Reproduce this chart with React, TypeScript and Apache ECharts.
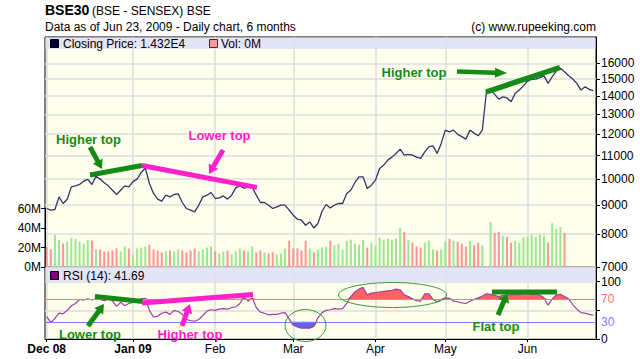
import React, { useEffect, useRef } from 'react';
import * as echarts from 'echarts';

// ---------- data ----------
const monthTicks = [0, 21, 41, 60, 80, 97, 117];
const monthLabels = ['Dec 08', 'Jan 09', 'Feb', 'Mar', 'Apr', 'May', 'Jun'];
const yearStartLabels = ['Dec 08', 'Jan 09'];
const priceTicks = [7000, 8000, 9000, 10000, 11000, 12000, 13000, 14000, 15000, 16000];
const rsiLabelTicks = [0, 30, 70, 100];
const rsiTickMarks = [0, 50, 100];

const closes = [
  8875, 8814, 8839, 9304, 9057, 9217, 9690, 9729, 9784, 9916,
  9990, 9784, 10120, 10000, 9850, 9730, 9560, 9394, 9560, 9730,
  9690, 9900, 10000, 10273, 10467, 9824, 9433, 9217, 9142, 9368,
  9304, 9394, 9417, 9094, 8875, 8814, 8753, 8995, 9304, 9368,
  9471, 9243, 9266, 9341, 9220, 9368, 9650, 9729, 9638, 9678,
  9690, 9368, 9094, 9094, 8995, 8875, 8933, 8995, 8995, 8814,
  8637, 8497, 8463, 8293, 8405, 8202, 8350, 8778, 9020, 8897,
  8995, 9057, 9057, 9433, 9560, 9864, 10091, 10091, 9626, 9756,
  9957, 10441, 10582, 10800, 10932, 11098, 11293, 11021, 11053, 11021,
  10932, 10874, 11170, 11399, 11446, 11098, 11558, 12200, 12116, 12200,
  11989, 11880, 11762, 12200, 12050, 11921, 12200, 14254, 14353, 14100,
  13837, 13967, 13900, 13686, 14162, 14353, 14600, 14888, 14991, 15000,
  15089, 15200, 14749, 15150, 15505, 15676, 15461, 15212, 15010, 14749,
  14353, 14547, 14394, 14320,
];

// volume in millions
const volumes = [
  20, 18, 33, 28, 24, 26, 30, 29, 26, 24,
  28, 27, 18, 18, 16, 16, 17, 19, 16, 21,
  19, 12, 19, 20, 21, 23, 18, 17, 15, 16,
  17, 16, 18, 17, 15, 17, 19, 16, 18, 20,
  21, 16, 14, 16, 17, 13, 16, 19, 17, 16,
  21, 15, 17, 15, 14, 15, 13, 14, 19, 27,
  19, 19, 17, 27, 19, 15, 18, 20, 21, 27,
  22, 24, 18, 27, 28, 24, 23, 28, 20, 25,
  22, 30, 28, 29, 28, 29, 40, 36, 28, 25,
  21, 20, 25, 27, 18, 17, 18, 26, 29, 27,
  26, 24, 21, 27, 22, 25, 22, 1, 46, 35,
  36, 32, 31, 25, 27, 25, 31, 31, 33, 31,
  33, 32, 25, 45, 39, 41, 35, 0, 0, 0,
  0, 0, 0, 0,
];

const rsi = [
  39, 29, 36, 45, 44, 50, 58, 62, 69, 68,
  70, 68, 70, 69, 67, 70, 67, 57, 64, 58,
  62, 64, 67, 70, 71, 50, 38, 40, 45, 47,
  43, 50, 48, 43, 34, 32, 31, 34, 41, 49,
  51, 50, 52, 53, 52, 55, 56, 62, 73, 66,
  72, 55, 47, 45, 42, 43, 43, 45, 46, 35,
  24, 21, 19, 19, 19, 22, 37, 46, 50, 51,
  53, 52, 53, 62, 74, 82, 87, 90, 77, 80,
  81, 82, 83, 84, 85, 87, 86, 77, 74, 70,
  67, 66, 79, 79, 69, 65, 69, 72, 71, 66,
  65, 63, 62, 66, 69, 72, 75, 79, 78, 76,
  74, 76, 77, 78, 77, 78, 79, 79, 78, 78,
  77, 72, 59, 70, 77, 78, 74, 70, 60, 52,
  46, 45, 43, 41.69,
];

const overbought = 70;
const oversold = 30;

// ---------- styling helpers ----------
const FONT = '"Liberation Sans", Arial, Helvetica, sans-serif';
const GREEN = '#168a16';
const PINK = '#ff22cc';
const ANNO_FONT = `bold 13px ${FONT}`;

function arrowPts(x1: number, y1: number, x2: number, y2: number, w: number, hw: number, hl: number) {
  const dx = x2 - x1, dy = y2 - y1;
  const len = Math.hypot(dx, dy);
  const ux = dx / len, uy = dy / len;
  const nx = -uy, ny = ux;
  const bx = x2 - ux * hl, by = y2 - uy * hl;
  return [
    [x1 + nx * w / 2, y1 + ny * w / 2],
    [bx + nx * w / 2, by + ny * w / 2],
    [bx + nx * hw / 2, by + ny * hw / 2],
    [x2, y2],
    [bx - nx * hw / 2, by - ny * hw / 2],
    [bx - nx * w / 2, by - ny * w / 2],
    [x1 - nx * w / 2, y1 - ny * w / 2],
  ];
}

function arrow(x1: number, y1: number, x2: number, y2: number, color: string, w = 5, hw = 11, hl = 9) {
  return { type: 'polygon', z: 110, shape: { points: arrowPts(x1, y1, x2, y2, w, hw, hl) }, style: { fill: color } };
}
function thick(x1: number, y1: number, x2: number, y2: number, color: string, w = 5) {
  return { type: 'line', z: 110, shape: { x1, y1, x2, y2 }, style: { stroke: color, lineWidth: w } };
}
function label(text: string, x: number, y: number, color: string, font = ANNO_FONT, align = 'center') {
  return { type: 'text', z: 120, style: { text, x, y, fill: color, font, textAlign: align, textVerticalAlign: 'middle' } };
}

export default function App() {
  const ref = useRef<HTMLDivElement>(null);

  useEffect(() => {
    document.body.style.margin = '0';
    if (!ref.current) return;
    const chart = echarts.init(ref.current, undefined, { renderer: 'svg' });

    const L = 45, W = 551;
    const xMin = -0.41, xMax = 133.66;
    const gridLine = { show: true, lineStyle: { color: '#dcdcdc', width: 1.5 } };
    const axisFont = { fontFamily: FONT, fontSize: 12, color: '#000' };
    const logTicks = priceTicks.map((t) => Math.log10(t));
    const blackLine = { show: true, onZero: false, lineStyle: { color: '#000', width: 1 } };
    const hiddenX = (gridIndex: number) => ({
      gridIndex, type: 'value', min: xMin, max: xMax, show: false,
      axisLine: { show: false, onZero: false }, axisTick: { show: false }, axisLabel: { show: false }, splitLine: { show: false },
    });

    const option: any = {
      animation: false,
      backgroundColor: '#ffffff',
      grid: [
        { left: L, top: 37, width: W, height: 230, show: true, backgroundColor: '#ffffee', borderColor: '#000', borderWidth: 1 },
        { left: L, top: 267, width: W, height: 72, show: true, backgroundColor: '#ffffee', borderColor: '#000', borderWidth: 1 },
        { left: L, top: 208.5, width: W, height: 58.5, show: false },
      ],
      xAxis: [
        {
          gridIndex: 0, type: 'value', min: xMin, max: xMax,
          axisLine: { show: false, onZero: false },
          axisTick: { show: false, customValues: monthTicks },
          axisLabel: { show: false, customValues: monthTicks },
          splitLine: gridLine,
        },
        {
          gridIndex: 1, type: 'value', min: xMin, max: xMax,
          axisLine: blackLine,
          axisTick: { show: true, length: 3, customValues: monthTicks, lineStyle: { color: '#000' } },
          axisLabel: {
            customValues: monthTicks, margin: 4, ...axisFont,
            formatter: (v: number) => {
              const k = monthTicks.indexOf(Math.round(v));
              const t = k >= 0 ? monthLabels[k] : '';
              return yearStartLabels.includes(t) ? `{b|${t}}` : `{n|${t}}`;
            },
            rich: {
              b: { fontFamily: FONT, fontSize: 12, fontWeight: 'bold', color: '#000' },
              n: { fontFamily: FONT, fontSize: 12, color: '#000' },
            },
          },
          splitLine: gridLine,
        },
        hiddenX(2),
      ],
      yAxis: [
        {
          gridIndex: 0, type: 'value', position: 'right',
          min: Math.log10(7000), max: Math.log10(17800),
          axisLine: blackLine,
          axisTick: { show: true, length: 4, customValues: logTicks, lineStyle: { color: '#000' } },
          axisLabel: { customValues: logTicks, margin: 5, ...axisFont, formatter: (v: number) => String(Math.round(Math.pow(10, v))) },
          splitLine: gridLine,
        },
        {
          gridIndex: 2, type: 'value', position: 'left', min: 0, max: 60, interval: 20,
          axisLine: blackLine,
          axisTick: { show: true, length: 4, lineStyle: { color: '#000' } },
          axisLabel: { margin: 4, ...axisFont, formatter: (v: number) => `${v}M` },
          splitLine: { show: false },
        },
        {
          gridIndex: 1, type: 'value', position: 'right', min: 0, max: 125.65,
          axisLine: blackLine,
          axisTick: { show: true, length: 4, customValues: rsiTickMarks, lineStyle: { color: '#000' } },
          axisLabel: {
            customValues: rsiLabelTicks, margin: 5, ...axisFont,
            formatter: (v: number) => (v === 70 ? `{r|70}` : v === 30 ? `{bl|30}` : `{k|${v}}`),
            rich: {
              r: { fontFamily: FONT, fontSize: 12, color: '#ff6f6f' },
              bl: { fontFamily: FONT, fontSize: 12, color: '#7f7fff' },
              k: { fontFamily: FONT, fontSize: 12, color: '#000' },
            },
          },
          splitLine: gridLine,
        },
      ],
      series: [
        {
          type: 'bar', xAxisIndex: 2, yAxisIndex: 1, barWidth: 2, z: 2,
          data: volumes.map((v, i) => ({
            value: [i, v],
            itemStyle: { color: i > 0 && closes[i] >= closes[i - 1] ? '#9be88f' : '#ff9494' },
          })),
        },
        {
          type: 'line', xAxisIndex: 0, yAxisIndex: 0, z: 3, showSymbol: false,
          data: closes.map((c, i) => [i, Math.log10(c)]),
          lineStyle: { color: '#343468', width: 1.3 },
        },
        {
          type: 'line', xAxisIndex: 1, yAxisIndex: 2, showSymbol: false, z: 2,
          data: rsi.map((r, i) => [i, Math.max(r, overbought)]),
          lineStyle: { opacity: 0 },
          areaStyle: { color: '#ff6262', opacity: 1, origin: overbought },
        },
        {
          type: 'line', xAxisIndex: 1, yAxisIndex: 2, showSymbol: false, z: 2,
          data: rsi.map((r, i) => [i, Math.min(r, oversold)]),
          lineStyle: { opacity: 0 },
          areaStyle: { color: '#6262ff', opacity: 1, origin: oversold },
        },
        {
          type: 'line', xAxisIndex: 1, yAxisIndex: 2, showSymbol: false, z: 4,
          data: rsi.map((r, i) => [i, r]),
          lineStyle: { color: '#a23fa8', width: 1.2 },
          markLine: {
            silent: true, symbol: ['none', 'none'], label: { show: false },
            lineStyle: { type: 'solid', width: 1 },
            data: [
              { yAxis: overbought, lineStyle: { color: '#ff7a7a', type: 'solid', width: 1 } },
              { yAxis: oversold, lineStyle: { color: '#7a7aff', type: 'solid', width: 1 } },
            ],
          },
        },
      ],
      graphic: [
        // header
        label('BSE30', 45, 10, '#000', `bold 14px ${FONT}`, 'left'),
        label('(BSE - SENSEX) BSE', 92, 11, '#000', `12px ${FONT}`, 'left'),
        label('Data as of Jun 23, 2009 - Daily chart, 6 months', 45, 27, '#000', `12px ${FONT}`, 'left'),
        label('(c) www.rupeeking.com', 596, 27, '#000', `12px ${FONT}`, 'right'),
        // legend bands
        { type: 'rect', z: 100, shape: { x: 45.5, y: 37.5, width: 550, height: 11.5 }, style: { fill: 'rgba(224,224,248,0.88)' } },
        { type: 'rect', z: 100, shape: { x: 45.5, y: 267.5, width: 550, height: 14 }, style: { fill: 'rgba(224,224,248,0.88)' } },
        { type: 'rect', z: 105, shape: { x: 50.5, y: 39.5, width: 8, height: 8 }, style: { fill: '#00003a', stroke: '#000', lineWidth: 1 } },
        label('Closing Price: 1.432E4', 63, 43.5, '#000', `12px ${FONT}`, 'left'),
        { type: 'rect', z: 105, shape: { x: 209.5, y: 39.5, width: 8, height: 8 }, style: { fill: '#ff9999', stroke: '#333', lineWidth: 1 } },
        label('Vol: 0M', 221, 43.5, '#000', `12px ${FONT}`, 'left'),
        { type: 'rect', z: 105, shape: { x: 50.5, y: 271.5, width: 8, height: 8 }, style: { fill: '#800080', stroke: '#000', lineWidth: 1 } },
        label('RSI (14): 41.69', 63, 275.5, '#000', `12px ${FONT}`, 'left'),
        // price annotations
        thick(90, 175, 142, 165.5, GREEN),
        thick(142, 165.5, 257, 187.5, PINK),
        arrow(90, 147, 102, 169, GREEN),
        label('Higher top', 88.5, 139, GREEN),
        arrow(223, 150, 209, 174, PINK),
        label('Lower top', 219.5, 135, PINK),
        thick(486, 92, 560, 67.5, GREEN, 5.5),
        arrow(457, 71.5, 507, 73, GREEN, 4.5, 10, 12),
        label('Higher top', 414, 72, GREEN),
        // RSI annotations
        thick(95, 296.5, 143, 301.5, GREEN),
        thick(142, 303, 253, 294.5, PINK),
        arrow(88, 326, 104, 304, GREEN),
        label('Lower top', 90, 334, GREEN),
        arrow(182, 326, 190, 304, PINK),
        label('Higher top', 190, 334, PINK),
        thick(492, 292, 557, 292, GREEN),
        arrow(498, 315, 507, 294, GREEN, 5, 12, 8),
        label('Flat top', 496, 326, GREEN),
        { type: 'ellipse', z: 108, shape: { cx: 305.5, cy: 325.5, rx: 20.5, ry: 16 }, style: { fill: 'none', stroke: '#3a9a3a', lineWidth: 1 } },
        { type: 'ellipse', z: 108, shape: { cx: 392.5, cy: 295, rx: 54, ry: 12.5 }, style: { fill: 'none', stroke: '#3a9a3a', lineWidth: 1 } },
      ],
    };

    chart.setOption(option);
    return () => chart.dispose();
  }, []);

  return <div ref={ref} style={{ position: 'fixed', left: 0, top: 0, width: 640, height: 359 }} />;
}
